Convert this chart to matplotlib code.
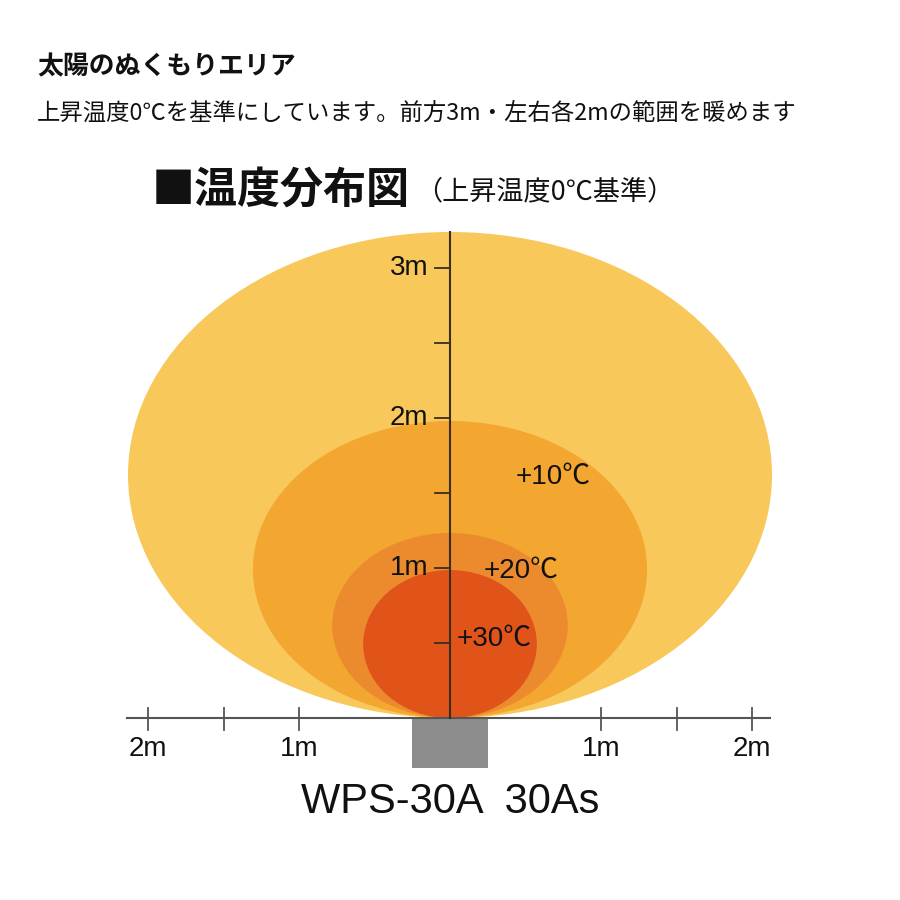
import matplotlib
matplotlib.use("Agg")
import matplotlib.pyplot as plt
from matplotlib.patches import Ellipse, Rectangle

plt.rcParams['font.family'] = ['Noto Sans CJK JP', 'DejaVu Sans']

# ---- data (metres) ----
zone_labels = ["0℃", "+10℃", "+20℃", "+30℃"]
zone_center_y = [1.62, 0.99, 0.617, 0.493]
zone_width = [4.265, 2.61, 1.56, 1.15]
zone_height = [3.24, 1.98, 1.233, 0.987]
zone_colors = ["#F8C85A", "#F3A630", "#EC8B2E", "#E0541A"]
label_pos_x = [None, 0.68, 0.47, 0.29]
label_pos_y = [None, 1.61, 0.98, 0.53]

x_ticks = [-2, -1.5, -1, 1, 1.5, 2]
x_ticklabels = ["2m", "", "1m", "1m", "", "2m"]
y_ticks = [0.5, 1, 1.5, 2, 2.5, 3]
y_ticklabels = ["", "1m", "", "2m", "", "3m"]

title_main = "太陽のぬくもりエリア"
subtitle = "上昇温度0℃を基準にしています。前方3m・左右各2mの範囲を暖めます"
chart_title = "■温度分布図"
chart_note = "（上昇温度0℃基準）"
model_name = "WPS-30A  30As"

num_font = ['Liberation Sans', 'Noto Sans CJK JP', 'DejaVu Sans']

fig = plt.figure(figsize=(9, 9), dpi=100)
ax = fig.add_axes([0, 0, 1, 1])
px_x, px_y = 151.0, 150.0
x0, y0 = 450.0, 718.0
ax.set_xlim(-x0 / px_x, (900 - x0) / px_x)
ax.set_ylim((y0 - 900) / px_y, y0 / px_y)
ax.axis('off')

# zones
for cy, w, h, c in zip(zone_center_y, zone_width, zone_height, zone_colors):
    ax.add_patch(Ellipse((0, cy), w, h, facecolor=c, edgecolor='none', zorder=1))

# heater box
ax.add_patch(Rectangle((-0.25, -0.333), 0.5, 0.333, facecolor="#8C8C8C",
                       edgecolor='none', zorder=2))

# horizontal axis
ax.plot([-2.14, 2.12], [0, 0], color="#555555", lw=1.5, zorder=3)
for t, lab in zip(x_ticks, x_ticklabels):
    ax.plot([t, t], [-0.08, 0.07], color="#555555", lw=1.3, zorder=3)
    if lab:
        ax.text(t, -0.205, lab, ha='center', va='center', fontsize=20,
                family=num_font, color="#111111")

# vertical axis
ax.plot([0, 0], [0, 3.24], color="#3A2E1E", lw=1.5, zorder=3)
for t, lab in zip(y_ticks, y_ticklabels):
    ax.plot([-0.1, 0], [t, t], color="#3A2E1E", lw=1.3, zorder=3)
    if lab:
        ax.text(-0.145, t, lab, ha='right', va='center', fontsize=20,
                family=num_font, color="#111111")

# zone labels
for lab, lx, ly in zip(zone_labels, label_pos_x, label_pos_y):
    if lx is None:
        continue
    ax.text(lx, ly, lab, ha='center', va='center', fontsize=20,
            family=num_font, color="#111111", zorder=4)

# model name
ax.text(0, -0.56, model_name, ha='center', va='center', fontsize=30,
        family=num_font, color="#111111")

# titles (figure pixel coords)
fig.text(37 / 900, 1 - 67 / 900, title_main, ha='left', va='center',
         fontsize=18.6, fontweight='bold', color="#111111")
fig.text(37 / 900, 1 - 113 / 900, subtitle, ha='left', va='center',
         fontsize=16.8, color="#111111")
fig.text(152 / 900, 1 - 190 / 900, chart_title, ha='left', va='center',
         fontsize=31, fontweight='bold', color="#111111")
fig.text(415 / 900, 1 - 192 / 900, chart_note, ha='left', va='center',
         fontsize=19.5, color="#111111")

fig.savefig("out.png", dpi=100, facecolor='white')
